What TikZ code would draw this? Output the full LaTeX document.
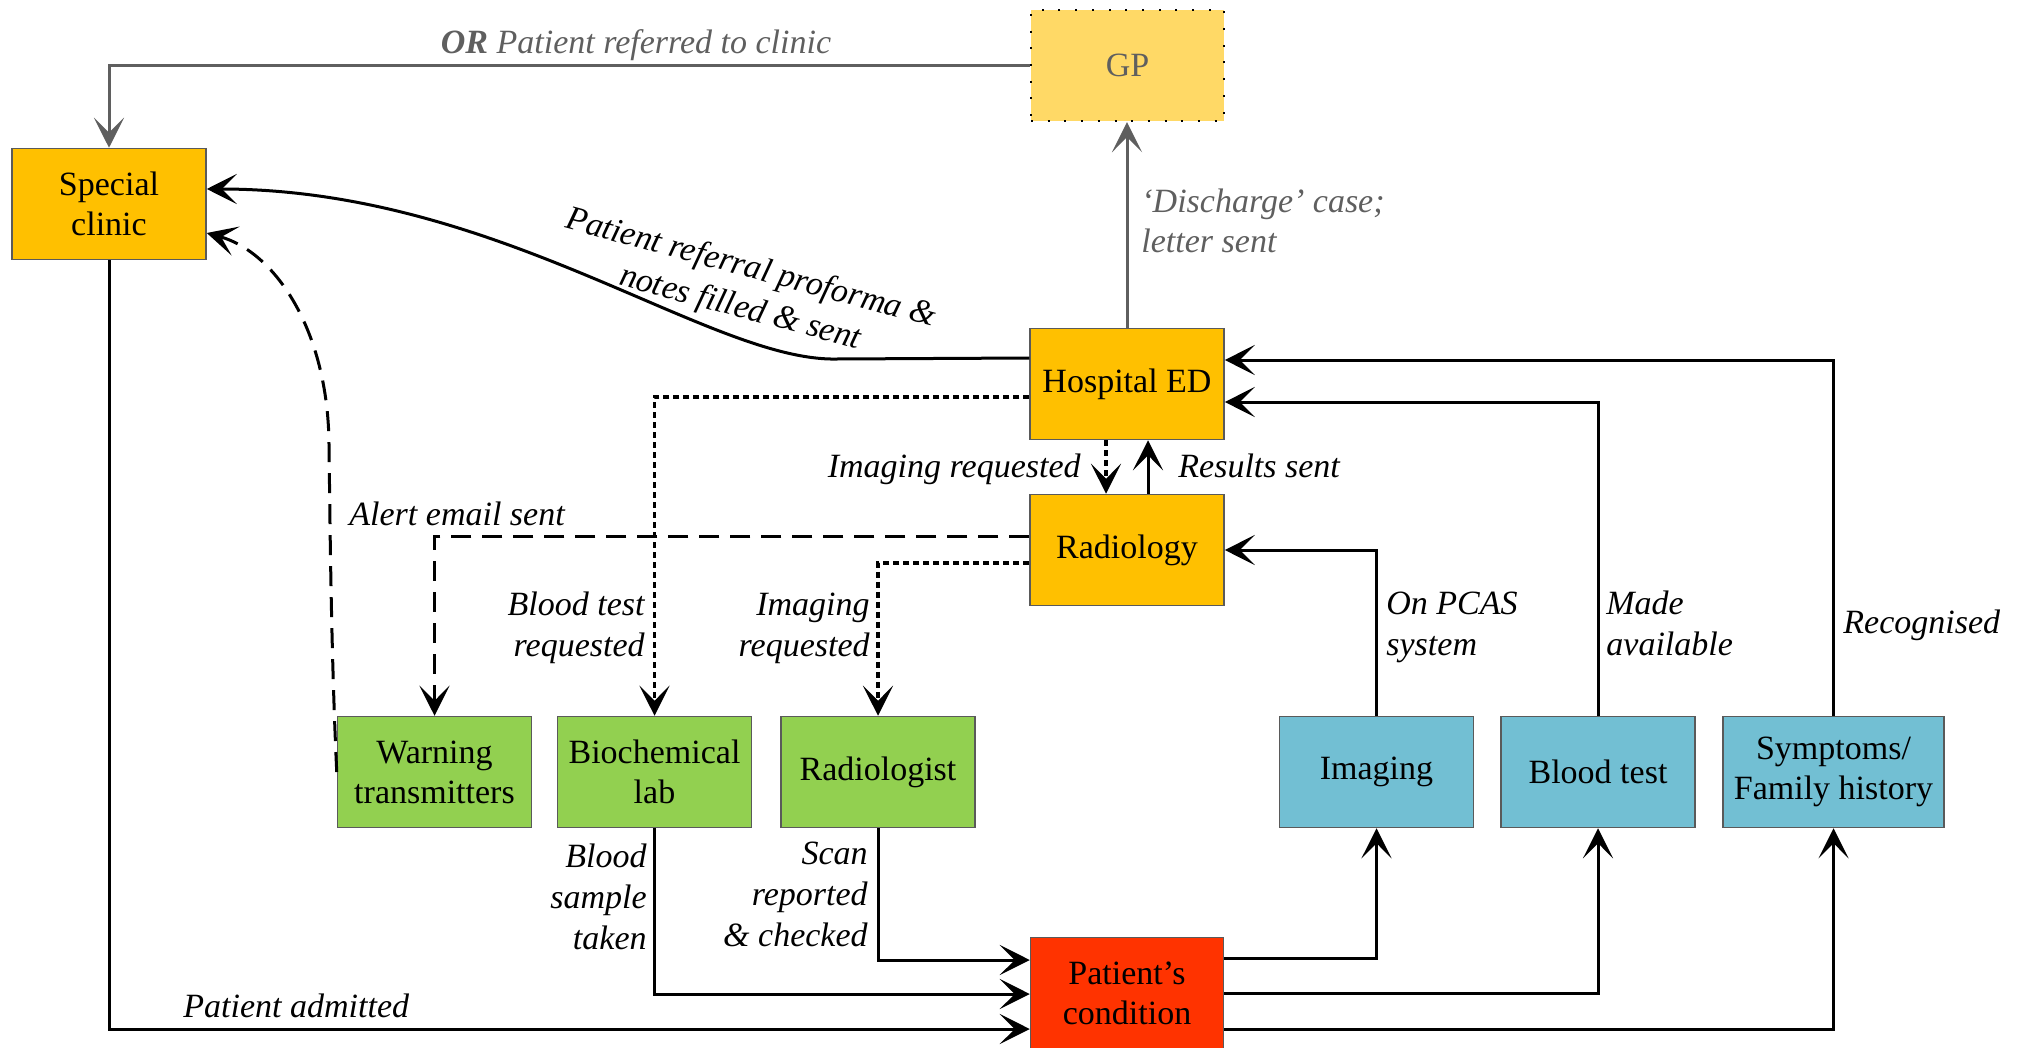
\documentclass[tikz,border=0pt]{standalone}
\usepackage{fontspec}
\setmainfont{Liberation Serif}
\usetikzlibrary{arrows.meta,calc}
\definecolor{orangeF}{RGB}{255,192,0}
\definecolor{gpF}{RGB}{255,217,102}
\definecolor{greenF}{RGB}{146,208,80}
\definecolor{blueF}{RGB}{114,191,211}
\definecolor{redF}{RGB}{255,51,0}
\definecolor{greyL}{RGB}{95,95,95}
\definecolor{boxB}{RGB}{90,90,90}
\begin{document}
\begin{tikzpicture}[x=0.5pt,y=-0.5pt,
  box/.style={draw=boxB, line width=0.75pt, inner sep=0pt, align=center,
    font=\fontsize{17}{20}\selectfont, minimum width=97pt, minimum height=55.5pt},
  obox/.style={box, fill=orangeF},
  gbox/.style={box, fill=greenF},
  bbox/.style={box, fill=blueF},
  lbl/.style={inner sep=0pt, font=\fontsize{17}{20.5}\selectfont\itshape},
  tipS/.tip={Stealth[length=15pt,width=15pt,inset=7.5pt]},
  conn/.style={line width=1.5pt, -tipS},
  gconn/.style={conn, draw=greyL, -{Stealth[length=15pt,width=15pt,inset=7.5pt,fill=greyL]}},
  dashconn/.style={conn, dash pattern=on 10pt off 5.5pt},
  dotconn/.style={conn, line width=1.6pt, dash pattern=on 3pt off 2pt}
]
\useasboundingbox (0,0) rectangle (2017,1048);

% nodes
\node[box, fill=gpF, text=greyL, draw=black, line width=1.2pt, dash pattern=on 1pt off 7.35pt, minimum width=96.5pt] (GP) at (1127.5,65.5) {GP};
\node[obox] (SC) at (109,204) {Special\\clinic};
\node[obox] (HED) at (1127,384) {Hospital ED};
\node[obox] (RAD) at (1127,550) {Radiology};
\node[gbox] (WT) at (434.5,772) {Warning\\transmitters};
\node[gbox] (BL) at (654.5,772) {Biochemical\\lab};
\node[gbox] (RG) at (878,772) {Radiologist};
\node[bbox] (IM) at (1376.5,772) {Imaging};
\node[bbox] (BT) at (1598,772) {Blood test};
\node[bbox, minimum width=110.5pt] (SY) at (1833.5,772) {Symptoms/\\Family history};
\node[box, fill=redF, minimum width=96.5pt] (PC) at (1127,993) {Patient’s\\condition};

% grey connectors
\draw[gconn] (GP.west) -| (SC.north);
\draw[gconn] (HED.north) -- (HED.north |- GP.south);

% referral curve
\draw[conn] (HED.west |- 0,358) -- (837,359) .. controls (710,362) and (500,189) .. (SC.east |- 0,189);
% dashed curve
\draw[dashconn] (WT.west) .. controls (331,650) and (330,520) .. (329,444)
   .. controls (328,330) and (275,252) .. (SC.east |- 0,233);

\draw[dashconn] (RAD.west |- 0,536) -| (WT.north);
\draw[dotconn] (HED.west |- 0,397) -| (BL.north);
\draw[dotconn] (RAD.west |- 0,563) -| (RG.north);
\draw[dotconn] (HED.south -| 1106,0) -- (RAD.north -| 1106,0);
\draw[conn] (RAD.north -| 1148,0) -- (HED.south -| 1148,0);

\draw[conn] (IM.north) |- (RAD.east);
\draw[conn] (BT.north) |- (HED.east |- 0,402);
\draw[conn] (SY.north) |- (HED.east |- 0,360);

\draw[conn] (PC.east |- 0,958) -| (IM.south);
\draw[conn] (PC.east |- 0,993) -| (BT.south);
\draw[conn] (PC.east |- 0,1029) -| (SY.south);

\draw[conn] (BL.south) |- (PC.west |- 0,994);
\draw[conn] (RG.south) |- (PC.west |- 0,960);
\draw[conn] (SC.south) |- (PC.west |- 0,1029);

% labels (base anchor of a multi-line node = baseline of its last line)
\node[lbl, text=greyL, anchor=base] (lOR) at (636,54) {\textbf{OR} Patient referred to clinic};
\node[lbl, text=greyL, anchor=base west, align=left] (lDis) at (1141,253) {‘Discharge’ case;\\letter sent};
\node[lbl, anchor=base, align=center, rotate=-15] (lRef) at (738,317) {Patient referral proforma \&\\notes filled \& sent};
\node[lbl, anchor=base east] (lImReq) at (1081,477) {Imaging requested};
\node[lbl, anchor=base west] (lRes) at (1178,477) {Results sent};
\node[lbl, anchor=base west] (lAlert) at (349,525) {Alert email sent};
\node[lbl, anchor=base east, align=right] (lBT) at (645,656) {Blood test\\requested};
\node[lbl, anchor=base east, align=right] (lIR) at (870,656) {Imaging\\requested};
\node[lbl, anchor=base east, align=right] (lBS) at (647,949) {Blood\\sample\\taken};
\node[lbl, anchor=base east, align=right] (lSc) at (868,946) {Scan\\reported\\\& checked};
\node[lbl, anchor=base west] (lAdm) at (183,1017) {Patient admitted};
\node[lbl, anchor=base west, align=left] (lPCAS) at (1386,655) {On PCAS\\system};
\node[lbl, anchor=base west, align=left] (lMade) at (1606,655) {Made\\available};
\node[lbl, anchor=base west] (lRec) at (1843,633) {Recognised};
\end{tikzpicture}
\end{document}
